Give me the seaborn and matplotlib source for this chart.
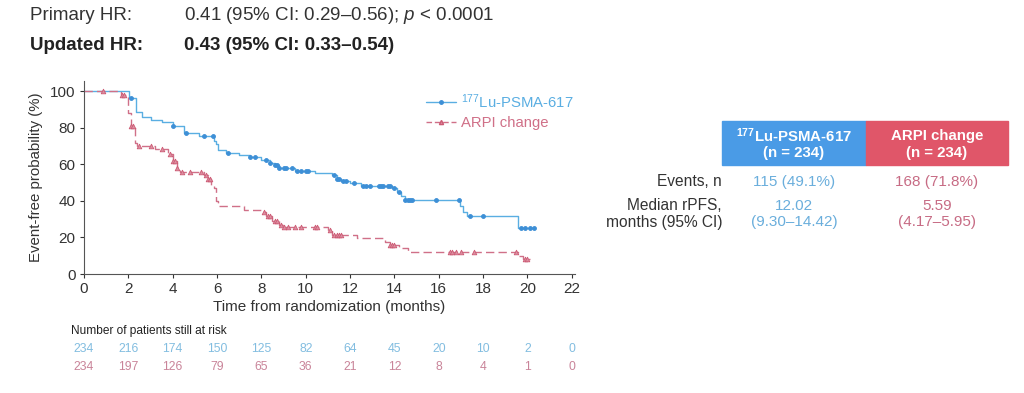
import numpy as np
import matplotlib
matplotlib.use("Agg")
import matplotlib.pyplot as plt
from matplotlib.lines import Line2D
from matplotlib.patches import Rectangle
import seaborn as sns

# Kaplan-Meier step curves (time in months, % event-free)
lu_time = [0, 2.05, 2.35, 2.6, 3.0, 3.5, 4.0, 4.5, 5.2, 5.85, 5.95, 6.05, 6.4, 7.0, 7.5, 8.0,
           8.4, 8.6, 8.8, 9.5, 10.4, 11.2, 11.4, 11.6, 12.0, 12.5, 13.9, 14.1, 14.3, 14.5,
           16.95, 17.1, 17.3, 19.6, 20.35]
lu_surv = [100, 96.5, 89, 86, 84.5, 83, 81, 77, 75.5, 73, 71, 68, 66.5, 65, 64, 62.5,
           61, 59.5, 58, 56.5, 55.5, 54, 52, 51, 49.8, 48.2, 47, 45, 43, 40.5,
           37, 34, 31.5, 25, 25]
lu_censor = [2.1, 4.0, 4.6, 5.4, 5.8, 6.5, 7.5, 7.7, 8.2, 8.4, 8.6, 8.7, 8.8, 9.0, 9.1, 9.4,
             9.6, 9.8, 10.0, 10.1, 11.3, 11.4, 11.5, 11.7, 11.8, 12.2, 12.6, 12.7, 12.9,
             13.3, 13.4, 13.5, 13.7, 13.8, 14.0, 14.2, 14.5, 14.6, 14.7, 14.8, 15.9, 16.9,
             17.4, 18.0, 19.7, 19.9, 20.1, 20.3]

arpi_time = [0, 1.65, 2.0, 2.1, 2.3, 2.4, 3.2, 3.8, 4.0, 4.2, 4.35, 5.4, 5.6, 5.75, 5.85,
             5.95, 6.05, 7.2, 8.0, 8.2, 8.5, 8.8, 9.0, 11.0, 11.2, 12.3, 13.6, 13.8, 14.2,
             14.6, 19.6, 19.8, 20.1]
arpi_surv = [100, 98, 88, 81, 72, 70, 68.5, 66, 62, 58, 56, 54, 52, 49, 47,
             40, 37, 35, 34, 32, 29, 27, 25.5, 24, 21.5, 19.5, 17.5, 16, 14,
             12, 10, 8, 8]
arpi_censor = [0.85, 1.7, 1.8, 2.1, 2.2, 2.5, 3.0, 3.5, 3.9, 4.0, 4.1, 4.2, 4.4, 4.8, 5.3,
               5.5, 5.6, 5.7, 8.1, 8.3, 8.4, 8.6, 8.7, 8.9, 9.0, 9.2, 9.5, 9.8, 10.4, 10.5,
               11.1, 11.3, 11.4, 11.5, 11.6, 13.8, 13.9, 14.0, 16.5, 16.6, 16.8, 17.0, 17.6,
               19.5, 19.9, 20.0]

risk_times = [0, 2, 4, 6, 8, 10, 12, 14, 16, 18, 20, 22]
lu_risk = [234, 216, 174, 150, 125, 82, 64, 45, 20, 10, 2, 0]
arpi_risk = [234, 197, 126, 79, 65, 36, 21, 12, 8, 4, 1, 0]

lu_label = r"$^{\mathregular{177}}$Lu-PSMA-617"
arpi_label = "ARPI change"

BLUE_LINE = "#5aaee2"
BLUE_MARK = "#3d8fd6"
RED_LINE = "#d07088"
RED_MARK = "#cc5a74"
DARK = "#333333"

sns.set_style("ticks")
plt.rcParams["font.family"] = ["Liberation Sans", "DejaVu Sans"]
plt.rcParams["mathtext.fontset"] = "custom"
plt.rcParams["mathtext.rm"] = "Liberation Sans"
plt.rcParams["mathtext.it"] = "Liberation Sans:italic"


def step_at(times, surv, t):
    idx = np.searchsorted(times, t, side="right") - 1
    return np.array(surv)[idx]


W, H = 1024, 393
fig = plt.figure(figsize=(W / 100, H / 100), dpi=100)
ax = fig.add_axes([84 / W, 1 - 274 / H, 491 / W, 193.5 / H])

sns.lineplot(x=lu_time, y=lu_surv, ax=ax, drawstyle="steps-post",
             color=BLUE_LINE, lw=1.0, estimator=None, sort=False)
sns.lineplot(x=arpi_time, y=arpi_surv, ax=ax, drawstyle="steps-post",
             color=RED_LINE, lw=1.0, estimator=None, sort=False,
             linestyle=(0, (6, 3)))
sns.scatterplot(x=lu_censor, y=step_at(lu_time, lu_surv, lu_censor), ax=ax,
                marker="o", s=8, color=BLUE_MARK, edgecolor=BLUE_MARK, linewidth=0.6, zorder=3)
sns.scatterplot(x=arpi_censor, y=step_at(arpi_time, arpi_surv, arpi_censor), ax=ax,
                marker="^", s=11, color="#dc8ea0", edgecolor=RED_MARK, linewidth=0.6, zorder=3)

ax.set_xlim(0, 22.15)
ax.set_ylim(0, 106)
ax.set_xticks(range(0, 23, 2))
ax.set_yticks(range(0, 101, 20))
ax.tick_params(labelsize=11, colors=DARK, length=3, width=0.8, pad=3)
for s in ["left", "bottom"]:
    ax.spines[s].set_color("#555555")
    ax.spines[s].set_linewidth(0.8)
sns.despine(ax=ax)
ax.set_xlabel("Time from randomization (months)", fontsize=11, color=DARK, labelpad=3)
ax.set_ylabel("Event-free probability (%)", fontsize=10.8, color=DARK, labelpad=5)

handles = [Line2D([], [], color=BLUE_LINE, lw=1, marker="o", ms=2.5, mfc=BLUE_MARK, mec=BLUE_MARK),
           Line2D([], [], color=RED_LINE, lw=1, ls=(0, (4, 2)), marker="^", ms=3,
                  mfc="#dc8ea0", mec=RED_MARK)]
ax.legend(handles, [lu_label, arpi_label], loc="upper left", bbox_to_anchor=(0.67, 1.01),
          frameon=False, fontsize=10.7, labelcolor=[BLUE_LINE, RED_LINE],
          handlelength=2.0, handletextpad=0.3, labelspacing=0.35)

# header
fig.text(30 / W, 1 - 15 / H, "Primary HR:", fontsize=13.5, color=DARK, va="center")
fig.text(184 / W, 1 - 15 / H, "0.41 (95% CI: 0.29–0.56); $\\it{p}$ < 0.0001",
         fontsize=13.5, color=DARK, va="center")
fig.text(30 / W, 1 - 46 / H, "Updated HR:", fontsize=13.5, color="#222222",
         va="center", fontweight="bold")
fig.text(184 / W, 1 - 46 / H, "0.43 (95% CI: 0.33–0.54)", fontsize=13.5, color="#222222",
         va="center", fontweight="bold")

# number at risk
fig.text(71 / W, 1 - 331 / H, "Number of patients still at risk", fontsize=8.6,
         color="#222222", va="center")
for t, a, b in zip(risk_times, lu_risk, arpi_risk):
    xf = (84 + t * 22.18) / W
    fig.text(xf, 1 - 349 / H, str(a), fontsize=8.8, color="#82bde0", ha="center", va="center")
    fig.text(xf, 1 - 367 / H, str(b), fontsize=8.8, color="#c98499", ha="center", va="center")

# summary table
fig.patches.append(Rectangle((722 / W, 1 - 165 / H), 144 / W, 44 / H,
                             transform=fig.transFigure, color="#4a9be6", zorder=0))
fig.patches.append(Rectangle((866 / W, 1 - 165 / H), 142 / W, 44 / H,
                             transform=fig.transFigure, color="#e05669", zorder=0))
fig.text(794 / W, 1 - 136 / H, lu_label, fontsize=10.8, color="white",
         fontweight="bold", ha="center", va="center")
fig.text(794 / W, 1 - 153 / H, "(n = 234)", fontsize=10.8, color="white",
         fontweight="bold", ha="center", va="center")
fig.text(937 / W, 1 - 136 / H, arpi_label, fontsize=10.8, color="white",
         fontweight="bold", ha="center", va="center")
fig.text(937 / W, 1 - 153 / H, "(n = 234)", fontsize=10.8, color="white",
         fontweight="bold", ha="center", va="center")

fig.text(722 / W, 1 - 182 / H, "Events, n", fontsize=11.2, color=DARK, ha="right", va="center")
fig.text(722 / W, 1 - 206 / H, "Median rPFS,", fontsize=11.2, color=DARK, ha="right", va="center")
fig.text(722 / W, 1 - 222 / H, "months (95% CI)", fontsize=11.2, color=DARK, ha="right", va="center")
rows = [(182, "115 (49.1%)", "168 (71.8%)"), (206, "12.02", "5.59"),
        (222, "(9.30–14.42)", "(4.17–5.95)")]
for y, a, b in rows:
    fig.text(794 / W, 1 - y / H, a, fontsize=11, color="#6aaedc", ha="center", va="center")
    fig.text(937 / W, 1 - y / H, b, fontsize=11, color="#c76b84", ha="center", va="center")

fig.savefig("out.png", dpi=100, facecolor="white")
